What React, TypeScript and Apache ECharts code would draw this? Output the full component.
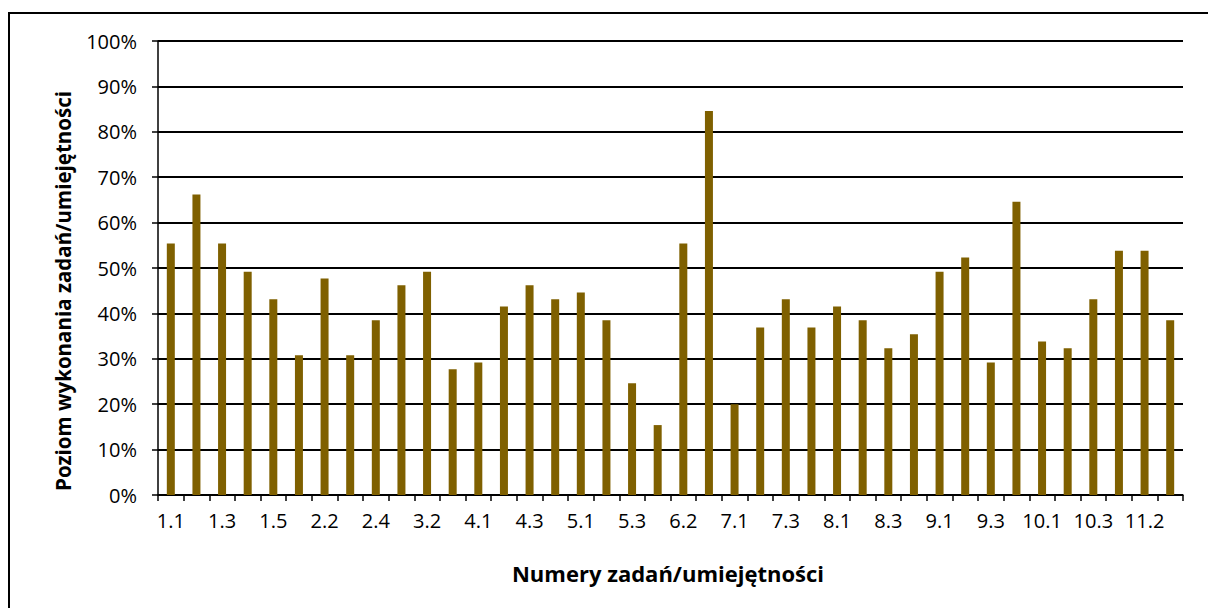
import React, { useEffect, useRef } from "react";
import * as echarts from "echarts";

const categories = [
  "1.1", "1.2", "1.3", "1.4", "1.5", "2.1", "2.2", "2.3", "2.4", "3.1",
  "3.2", "3.3", "4.1", "4.2", "4.3", "4.4", "5.1", "5.2", "5.3", "6.1",
  "6.2", "6.3", "7.1", "7.2", "7.3", "7.4", "8.1", "8.2", "8.3", "8.4",
  "9.1", "9.2", "9.3", "9.4", "10.1", "10.2", "10.3", "11.1", "11.2", "11.3",
];

const values = [
  55.4, 66.2, 55.4, 49.2, 43.1, 30.8, 47.7, 30.8, 38.5, 46.2,
  49.2, 27.7, 29.2, 41.5, 46.2, 43.1, 44.6, 38.5, 24.6, 15.4,
  55.4, 84.6, 20.0, 36.9, 43.1, 36.9, 41.5, 38.5, 32.3, 35.4,
  49.2, 52.3, 29.2, 64.6, 33.8, 32.3, 43.1, 53.8, 53.8, 38.5,
];

const yTicks = [0, 10, 20, 30, 40, 50, 60, 70, 80, 90, 100];

const xTitle = "Numery zadań/umiejętności";
const yTitle = "Poziom wykonania zadań/umiejętności";

export default function App() {
  const ref = useRef<HTMLDivElement>(null);
  useEffect(() => {
    document.body.style.margin = "0";
    const chart = echarts.init(ref.current!, null, { renderer: "svg" });
    const font = "'Open Sans'";
    chart.setOption({
      animation: false,
      backgroundColor: "#ffffff",
      grid: { left: 158, right: 25, top: 41, bottom: 113, containLabel: false },
      xAxis: {
        type: "category",
        data: categories,
        axisLine: { show: true, lineStyle: { color: "#000", width: 1.5 } },
        axisTick: { show: true, interval: 0, length: 6, lineStyle: { color: "#000", width: 1.5 } },
        axisLabel: {
          interval: 1,
          color: "#000",
          fontFamily: font,
          fontSize: 20,
          margin: 15,
        },
        splitLine: { show: false },
      },
      yAxis: {
        type: "value",
        min: yTicks[0],
        max: yTicks[yTicks.length - 1],
        interval: 10,
        axisLine: { show: true, lineStyle: { color: "#000", width: 1.5 } },
        axisTick: { show: true, length: 6, lineStyle: { color: "#000", width: 1.5 } },
        axisLabel: {
          color: "#000",
          fontFamily: font,
          fontSize: 20,
          margin: 21,
          formatter: (v: number) => `${v}%`,
        },
        splitLine: { show: true, lineStyle: { color: "#000", width: 1.8 } },
      },
      series: [
        {
          type: "bar",
          data: values,
          barWidth: 8,
          itemStyle: { color: "#7F6000" },
        },
      ],
      graphic: [
        {
          type: "rect",
          shape: { x: 9, y: 13, width: 1400, height: 800 },
          style: { fill: "none", stroke: "#000", lineWidth: 2 },
          silent: true,
        },
        {
          type: "text",
          x: 668,
          y: 573,
          style: {
            text: xTitle,
            align: "center",
            verticalAlign: "middle",
            font: `bold 22px ${font}`,
            fill: "#000",
          },
        },
        {
          type: "text",
          x: 63,
          y: 291,
          rotation: Math.PI / 2,
          style: {
            text: yTitle,
            align: "center",
            verticalAlign: "middle",
            font: `bold 20.5px ${font}`,
            fill: "#000",
          },
        },
      ],
    });
    return () => chart.dispose();
  }, []);
  return <div ref={ref} style={{ width: 1208, height: 608 }} />;
}
